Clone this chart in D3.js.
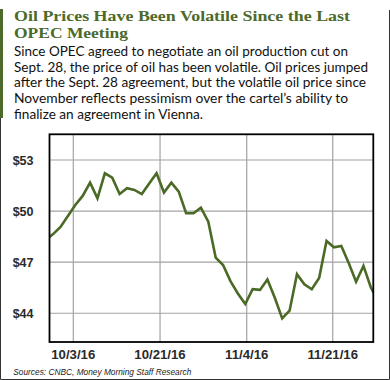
<!DOCTYPE html>
<html>
<head>
<meta charset="utf-8">
<script src="https://cdn.jsdelivr.net/npm/d3@7"></script>
<style>
body { margin: 0; background: #fff; }
svg { display: block; }
</style>
</head>
<body>
<svg width="390" height="380"></svg>
<script>
/* globals d3 */

// daily close, WTI ($/bbl)
const prices = [
    48.30, 48.65, 49.07, 49.71, 50.36, 50.89, 51.67, 50.75, 52.22, 51.96,
    51.00, 51.34, 51.24, 51.00, 51.62, 52.22, 51.09, 51.67, 51.14, 49.87,
    49.87, 50.20, 49.38, 47.27, 46.83, 45.89, 45.16, 44.54, 45.41, 45.37,
    45.98, 44.91, 43.70, 44.15, 46.29, 45.70, 45.41, 46.07, 48.24, 47.87,
    47.95, 46.95, 45.85, 46.78, 45.51, 44.72
];
// where the date labels sit along the series (point index)
const tickIdx = [3.73, 15.47, 27.2, 38.84];
const tickLabels = ['10/3/16', '10/21/16', '11/4/16', '11/21/16'];
const yTicks = [44, 47, 50, 53];

const titleLines = ['Oil Prices Have Been Volatile Since the Last', 'OPEC Meeting'];
const titleWidths = [336, 114];
const bodyLines = [
    'Since OPEC agreed to negotiate an oil production cut on',
    'Sept. 28, the price of oil has been volatile. Oil prices jumped',
    'after the Sept. 28 agreement, but the volatile oil price since',
    'November reflects pessimism over the cartel\u2019s ability to',
    'finalize an agreement in Vienna.'
];
const bodyWidths = [334, 354, 352, 334, 189];
const source = 'Sources: CNBC, Money Morning Staff Research';

const svg = d3.select('svg');
const green = '#4d6a2a';

const plot = {left: 49.5, top: 134.3, right: 373.3, bottom: 342};

// frame
svg.append('path')
.attr('d', 'M0.5,10 V379.5 H389.5 V10')
.attr('fill', 'none')
.attr('stroke', '#333')
.attr('stroke-width', 1);
svg.append('rect')
.attr('x', 0).attr('y', 9)
.attr('width', 3).attr('height', 109)
.attr('fill', green);

// header
const title = svg.append('g')
.attr('font-family', '"Liberation Serif", "DejaVu Serif", serif')
.attr('font-weight', 'bold')
.attr('font-size', 15)
.attr('fill', green);
title.selectAll('text')
.data(titleLines)
.enter().append('text')
.attr('x', 14)
.attr('y', (d, i) => 21.2 + i * 16.7)
.attr('textLength', (d, i) => titleWidths[i])
.attr('lengthAdjust', 'spacingAndGlyphs')
.text(d => d);

const body = svg.append('g')
.attr('font-family', 'Lato, "Liberation Sans", sans-serif')
.attr('font-size', 14)
.attr('fill', '#111');
body.selectAll('text')
.data(bodyLines)
.enter().append('text')
.attr('x', 14)
.attr('y', (d, i) => 56 + i * 15.7)
.attr('textLength', (d, i) => bodyWidths[i])
.attr('lengthAdjust', 'spacingAndGlyphs')
.text(d => d);

// scales
const x = d3.scaleLinear().domain([0.51, 44.33]).range([plot.left, plot.right]);
const y = d3.scaleLinear().domain([42.31, 54.51]).range([plot.bottom, plot.top]);

// grid
const grid = svg.append('g')
.attr('stroke', '#a3a3a3')
.attr('stroke-width', 1.2);
grid.selectAll('line.h')
.data(yTicks)
.enter().append('line')
.attr('class', 'h')
.attr('x1', plot.left).attr('x2', plot.right)
.attr('y1', d => y(d)).attr('y2', d => y(d));
grid.selectAll('line.v')
.data(tickIdx)
.enter().append('line')
.attr('class', 'v')
.attr('y1', plot.top).attr('y2', plot.bottom)
.attr('x1', d => x(d)).attr('x2', d => x(d));

// series
svg.append('clipPath')
.attr('id', 'clip')
.append('rect')
.attr('x', plot.left).attr('y', plot.top)
.attr('width', plot.right - plot.left)
.attr('height', plot.bottom - plot.top);

const line = d3.line()
.x((d, i) => x(i))
.y(d => y(d));

svg.append('path')
.datum(prices)
.attr('clip-path', 'url(#clip)')
.attr('d', line)
.attr('fill', 'none')
.attr('stroke', '#4a6a26')
.attr('stroke-width', 2.6)
.attr('stroke-linejoin', 'miter');

// plot border
svg.append('rect')
.attr('x', plot.left).attr('y', plot.top)
.attr('width', plot.right - plot.left)
.attr('height', plot.bottom - plot.top)
.attr('fill', 'none')
.attr('stroke', '#000')
.attr('stroke-width', 1.8);

// axes labels
const yLab = svg.append('g')
.attr('font-family', '"Liberation Sans", Arial, sans-serif')
.attr('font-weight', 'bold')
.attr('font-size', 12.5)
.attr('fill', '#2a2a2a')
.attr('text-anchor', 'end');
yLab.selectAll('text')
.data(yTicks)
.enter().append('text')
.attr('x', 33.5)
.attr('y', d => y(d))
.attr('dy', '0.36em')
.text(d => '$' + d);

const xLab = svg.append('g')
.attr('font-family', '"Liberation Sans", Arial, sans-serif')
.attr('font-weight', 'bold')
.attr('font-size', 13.2)
.attr('fill', '#2a2a2a')
.attr('text-anchor', 'middle');
xLab.selectAll('text')
.data(tickIdx)
.enter().append('text')
.attr('x', d => x(d))
.attr('y', 359)
.text((d, i) => tickLabels[i]);

svg.append('text')
.attr('x', 13.3)
.attr('y', 375)
.attr('font-family', '"Liberation Sans", Arial, sans-serif')
.attr('font-style', 'italic')
.attr('font-size', 9)
.attr('fill', '#222')
.attr('textLength', 178)
.attr('lengthAdjust', 'spacingAndGlyphs')
.text(source);
</script>
</body>
</html>
